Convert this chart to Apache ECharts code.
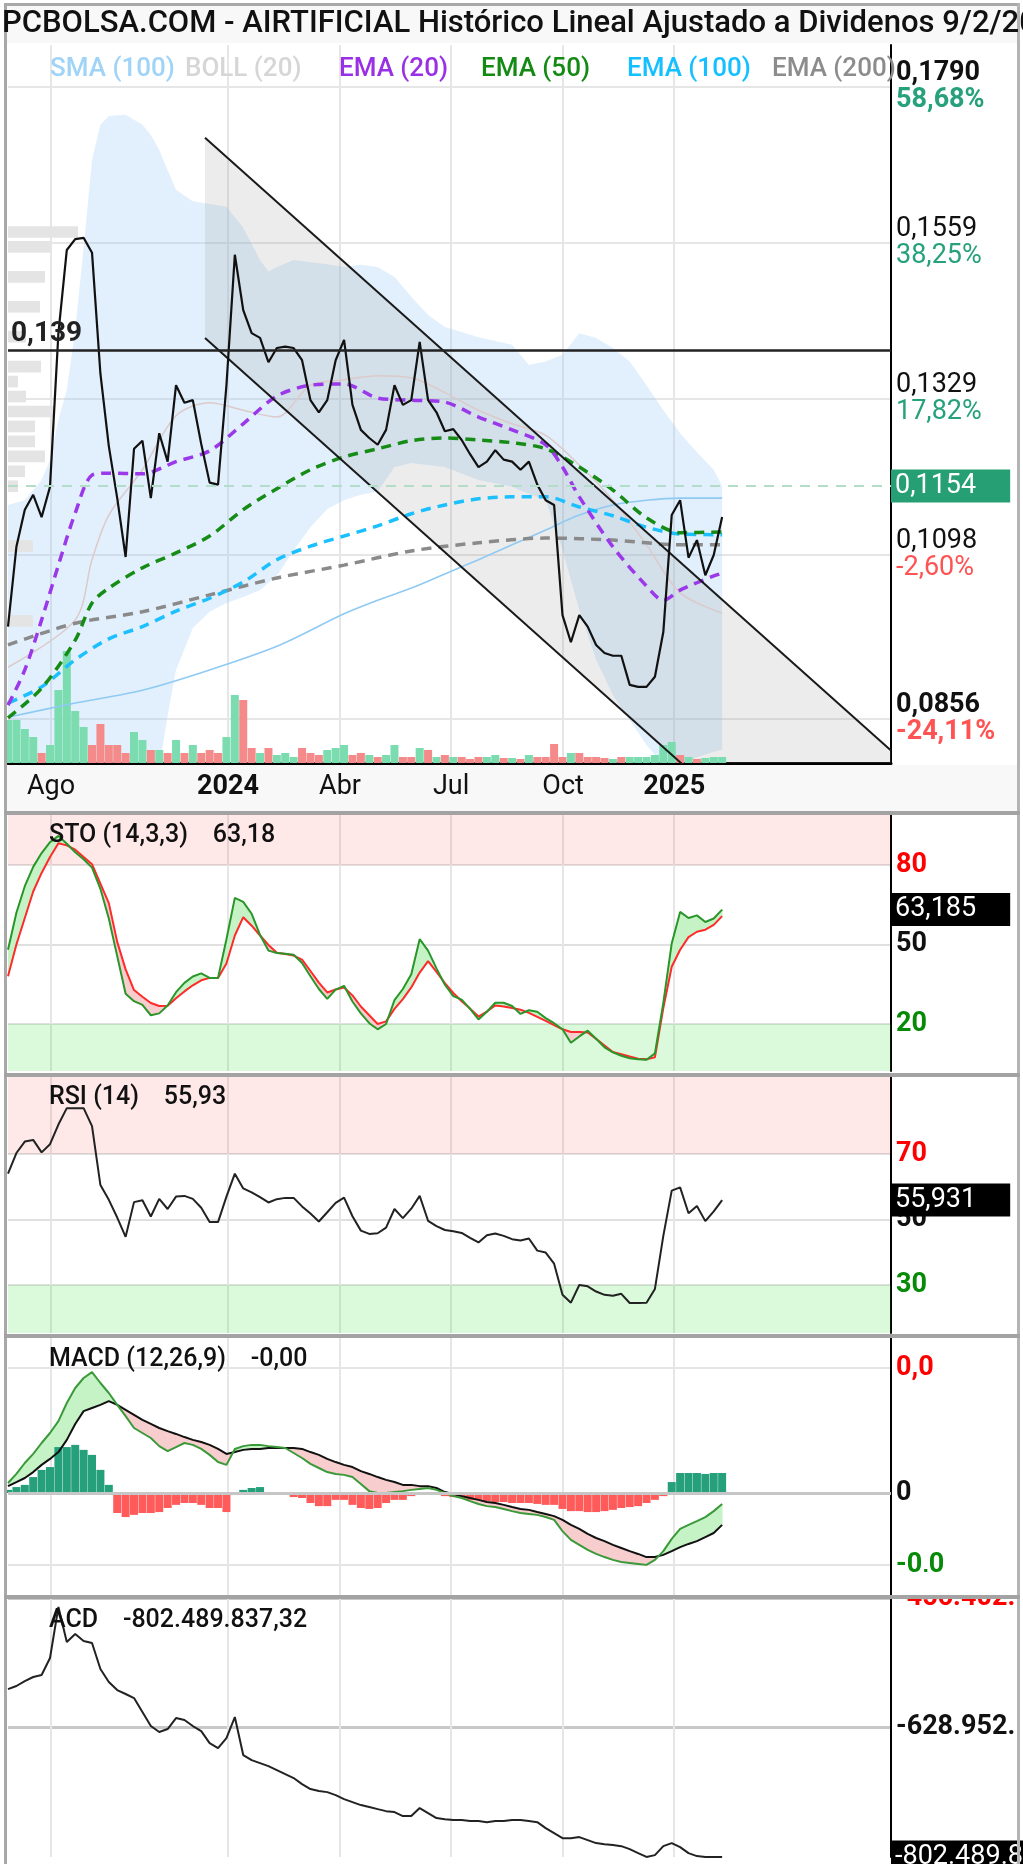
<!DOCTYPE html>
<html>
<head>
<meta charset="utf-8">
<title>AIRTIFICIAL</title>
<script src="https://cdn.jsdelivr.net/npm/echarts@6.0.0/dist/echarts.min.js"></script>
<style>
  html, body { margin: 0; padding: 0; background: #fff; }
  #main { width: 1023px; height: 1864px; }
</style>
</head>
<body>
<div id="main"></div>
<script>
// x = week number since the first bar (late June 2023), last bar = 9/2/2025
var X_MAX = 105.1;
var monthPos = [5.12, 26.19, 39.52, 52.74, 66.07, 79.29];
var monthLabels = ['Ago', '2024', 'Abr', 'Jul', 'Oct', '2025'];

// weekly close
var price = [0.0992,0.1110,0.1165,0.1187,0.1154,0.1199,0.1426,0.1549,0.1565,0.1567,
  0.1545,0.1366,0.1259,0.1182,0.1095,0.1255,0.1267,0.1182,0.1278,0.1236,
  0.1349,0.1323,0.1327,0.1262,0.1205,0.1202,0.1349,0.1542,0.1460,0.1426,
  0.1419,0.1383,0.1404,0.1406,0.1404,0.1386,0.1327,0.1309,0.1327,0.1386,
  0.1416,0.1320,0.1283,0.1271,0.1261,0.1283,0.1349,0.1320,0.1327,0.1413,
  0.1327,0.1309,0.1281,0.1284,0.1268,0.1247,0.1228,0.1236,0.1253,0.1239,
  0.1236,0.1224,0.1236,0.1202,0.1179,0.1172,0.1009,0.0969,0.1009,0.0992,
  0.0965,0.0953,0.0949,0.0949,0.0906,0.0903,0.0903,0.0918,0.0984,0.1157,
  0.1179,0.1094,0.1120,0.1068,0.1098,0.1154];

// weekly volume (relative) and up/down week
var volume = [43,43,34,26,10,18,73,112,52,36, 18,39,18,18,10,31,23,13,13,10,
  23,10,18,10,13,10,26,68,63,15, 10,15,8,10,6,15,10,8,13,15,
  18,8,10,8,6,8,18,6,6,15, 13,6,8,6,6,4,6,6,8,5,
  5,4,8,6,6,19,6,10,10,6, 6,5,4,6,6,6,6,8,18,21,
  8,6,4,5,6,6];
var volUp = [1,1,1,1,0,1,1,1,1,1, 0,0,0,0,0,1,1,0,1,0,
  1,0,1,0,0,0,1,1,0,0, 1,0,1,1,1,0,0,0,1,1,
  1,0,0,1,0,1,1,0,0,1, 0,1,0,1,0,0,0,1,1,0,
  1,0,1,0,0,0,0,1,0,0, 0,0,1,0,1,1,1,1,1,1,
  0,1,0,1,1,1];

// moving averages [week, value]
var ema20 = [[0,0.0876],[2,0.0928],[4,0.1002],[6,0.1083],[8,0.1160],[10,0.1216],[12,0.1219],[16,0.1218],
  [20,0.1236],[24,0.1252],[28,0.1292],[32,0.1333],[36,0.1349],[40,0.1351],[44,0.1330],[48,0.1327],
  [52,0.1324],[56,0.1302],[60,0.1283],[64,0.1261],[66,0.1228],[68,0.1184],[72,0.1110],[76,0.1052],
  [78,0.1031],[80,0.1046],[84,0.1067],[85,0.1071]];
var ema50 = [[0,0.0857],[4,0.0901],[8,0.0972],[10,0.1027],[12,0.1049],[16,0.1079],[20,0.1101],[24,0.1126],
  [28,0.1165],[32,0.1196],[36,0.1224],[40,0.1243],[44,0.1255],[48,0.1267],[52,0.1271],[56,0.1268],
  [60,0.1264],[64,0.1255],[68,0.1228],[72,0.1194],[76,0.1153],[80,0.1131],[85,0.1132]];
var ema100 = [[0,0.0879],[4,0.0903],[8,0.0943],[12,0.0974],[16,0.0992],[20,0.1015],[24,0.1034],[28,0.1058],
  [32,0.1091],[36,0.1111],[40,0.1126],[44,0.1141],[48,0.1159],[52,0.1172],[56,0.1181],[60,0.1184],
  [64,0.1184],[68,0.1169],[72,0.1156],[76,0.1139],[80,0.1129],[85,0.1128]];
var ema200 = [[0,0.0965],[8,0.0997],[16,0.1014],[24,0.1039],[32,0.1064],[40,0.1083],[48,0.1104],[56,0.1116],
  [64,0.1123],[72,0.1120],[80,0.1113],[85,0.1113]];
var sma100 = [[0,0.0858],[8,0.0879],[16,0.0898],[24,0.0928],[32,0.0963],[40,0.1011],[44,0.1031],[48,0.1049],
  [52,0.1070],[56,0.1091],[60,0.1113],[64,0.1135],[68,0.1157],[72,0.1172],[76,0.1179],[80,0.1182],[85,0.1182]];
var bollMid = [[0,0.0932],[8,0.1002],[10,0.1091],[12,0.1157],[16,0.1224],[20,0.1304],[24,0.1323],[28,0.1312],
  [32,0.1302],[36,0.1349],[40,0.1357],[44,0.1363],[48,0.1360],[52,0.1338],[56,0.1312],[60,0.1292],
  [64,0.1275],[68,0.1231],[72,0.1179],[76,0.1113],[80,0.1042],[85,0.1012]];

// Bollinger (20) bands
var bollX = [0,2,4,5,6,7,8,9,10,11, 12,14,16,17,18,19,20,22,24,26, 28,30,31,32,34,36,38,40,42,44,
  46,48,50,52,56,60,62,64,66,68, 70,72,74,76,78,80,82,84,85];
var bollUpper = [0.1172,0.1179,0.1209,0.1239,0.1298,0.1342,0.1431,0.1552,0.1682,0.1734,
  0.1747,0.1749,0.1734,0.1719,0.1697,0.1667,0.1638,0.1621,0.1617,0.1613,
  0.1582,0.1534,0.1517,0.1524,0.1534,0.1531,0.1528,0.1524,0.1527,0.1524,
  0.1509,0.1480,0.1453,0.1435,0.1420,0.1409,0.1379,0.1384,0.1394,0.1426,
  0.1419,0.1404,0.1384,0.1349,0.1312,0.1278,0.1250,0.1224,0.1200];
var bollLower = [0.0706,0.0708,0.0710,0.0711,0.0712,0.0713,0.0714,0.0715,0.0718,0.0722,
  0.0728,0.0736,0.0745,0.0758,0.0783,0.0861,0.0928,0.0990,0.1014,0.1027,
  0.1036,0.1046,0.1057,0.1067,0.1105,0.1139,0.1166,0.1179,0.1187,0.1192,
  0.1228,0.1234,0.1231,0.1228,0.1209,0.1199,0.1188,0.1179,0.1105,0.1017,
  0.0943,0.0891,0.0854,0.0817,0.0787,0.0790,0.0799,0.0807,0.0810];

// bearish channel
var chanX = [23.45, 105.1];
var chanUpper = [0.1715, 0.0809];
var chanLower = [0.1419, 0.0513];
var levelLine = 0.139;

// volume by price, 48 levels from the top of the chart down
var profileVol = [0,0,0,0,0,0,0,0,0,0,0,0, 70,43,0,37,0,32,0,18,0,33,10,18,45,27,27,37,17,10,
  0,0,0,25,0,0,0,0,25,0,0,0,0,0,0,0,0,0];

// Stochastic (14,3,3)
var stoK = [48,62,72,79.3,84.5,88.6,91,88,84.8,82.2, 79,71,59.8,45.6,31.4,28.6,27.2,23.3,24,27,
  32,35.5,37.9,39.1,37.4,37.4,52,67.6,66.1,61.6, 53.6,47.7,46.8,46.5,46.1,43,38,33.2,29.5,33,
  34.4,28.5,24,20.3,18,20,29,33.2,38.8,52, 47.7,41,34.8,30.5,29.2,25.7,21.7,24.6,28,28,
  26.8,23.8,25.2,24.6,22.2,20.3,18,12.9,15.3,17.5, 14.4,11.2,9.3,8,7.1,6.7,6.5,8.9,28,50.4,
  62.3,60,61,58.5,59.8,63.185];
var stoD = [38,50,60,70,77,83,88.2,87.4,85.8,83, 80.3,73,65.6,51,40.6,32.8,30.3,27.9,26.8,26.9,
  29.7,32.3,34.6,36.5,37.4,37.4,42.8,53.4,60.3,57.1, 53.4,49.8,46.9,46.4,45.8,44.3,40,35.6,31.9,33,
  33.8,30.8,26.6,23.3,20,21,25.7,29.4,33.8,39.4, 43.7,39.7,35.4,31.7,28.6,25.8,22.8,24.7,27,26.6,
  26,25.4,24.2,22.7,21.2,19.6,18,17,17,16.8, 14.4,11.9,9.4,8.6,7.7,6.9,6.7,7.4,26,41.6,
  48,52.8,54.8,55.6,57.4,60.7];

// RSI (14)
var rsi = [64,70.3,73.8,74.3,70.5,73,79,84,84,84, 78.5,60.5,56,50.6,44.7,55.3,55.9,50.9,56.3,53.2,
  57,57.2,56.3,53.6,49.2,49.2,57,64,59.5,58.3, 56.8,55.2,56.2,56.6,56.6,54,51.8,49.4,52.2,55.1,
  56.7,51,46.6,45.6,45.8,47.5,53.2,50.4,53.3,57.2, 49.6,48,46.8,46.4,45.9,44.4,43,45.2,45.7,45,
  44,43.6,44.2,40.5,39.9,36.5,27,24.6,30,29.6, 28,27,26.7,27.3,24.5,24.5,24.6,28.8,45,58.8,
  59.8,51.9,54.1,49.5,52.5,55.931];

// MACD (12,26,9)
var macd = [0.00032,0.00061,0.00096,0.00125,0.0016,0.00192,0.0023,0.00288,0.00336,0.00368,
  0.00387,0.00352,0.0032,0.00282,0.00246,0.00208,0.00192,0.00176,0.0015,0.00134,
  0.00147,0.0016,0.00154,0.00141,0.00122,0.00099,0.0009,0.00141,0.0015,0.00154,
  0.00154,0.0015,0.00147,0.00144,0.00128,0.00112,0.00093,0.0008,0.00067,0.00061,
  0.00058,0.00051,0.00029,0.00006,0,0,0.00003,0.00006,0.0001,0.00013,
  0.00016,0.0001,0,-0.0001,-0.00016,-0.00026,-0.00035,-0.00042,-0.00045,-0.00051,
  -0.00058,-0.00064,-0.00067,-0.0007,-0.00077,-0.00086,-0.00122,-0.0015,-0.00166,-0.00182,
  -0.00195,-0.00205,-0.00214,-0.00221,-0.00224,-0.00227,-0.0023,-0.00214,-0.00186,-0.00147,
  -0.00115,-0.00102,-0.0009,-0.00077,-0.00058,-0.00035];
var macdSignal = [0.00022,0.00035,0.00048,0.00067,0.0009,0.00109,0.00131,0.0017,0.00221,0.00262,
  0.00272,0.00282,0.00294,0.00282,0.00266,0.0025,0.00234,0.00221,0.00208,0.00198,
  0.00189,0.00179,0.0017,0.00163,0.00154,0.00141,0.00125,0.00131,0.00138,0.00141,
  0.00141,0.00144,0.00144,0.00144,0.00144,0.00141,0.00131,0.00122,0.00109,0.00099,
  0.0009,0.00083,0.0007,0.00061,0.00051,0.00042,0.00035,0.00026,0.00026,0.00022,
  0.00022,0.00016,0.00003,-0.00003,-0.0001,-0.00016,-0.00022,-0.00029,-0.00032,-0.00038,
  -0.00045,-0.00051,-0.00054,-0.00061,-0.00067,-0.00074,-0.00086,-0.00102,-0.00115,-0.00131,
  -0.00144,-0.00154,-0.00166,-0.00176,-0.00186,-0.00195,-0.00205,-0.00205,-0.00198,-0.00186,
  -0.00173,-0.00163,-0.00154,-0.00141,-0.00128,-0.00102];
var macdHist = [0.0001,0.00019,0.00026,0.00051,0.00074,0.00083,0.00147,0.00147,0.00154,0.00138,
  0.00122,0.00074,0.00026,-0.00064,-0.00077,-0.0007,-0.00064,-0.00064,-0.00061,-0.00048,
  -0.00038,-0.00032,-0.00032,-0.00038,-0.00048,-0.00048,-0.00061,0.00003,0.0001,0.00016,
  0.00019,0.00002,-0.00003,-0.00006,-0.00013,-0.00016,-0.00032,-0.00042,-0.00042,-0.00022,
  -0.00022,-0.00038,-0.00048,-0.00051,-0.00048,-0.00032,-0.00022,-0.00022,-0.0001,0.00003,
  0,-0.00003,-0.0001,-0.00013,-0.00016,-0.00022,-0.00022,-0.00026,-0.00029,-0.00029,
  -0.00032,-0.00032,-0.00032,-0.00035,-0.00038,-0.00038,-0.00051,-0.00058,-0.00058,-0.00061,
  -0.00061,-0.00058,-0.00054,-0.00048,-0.00045,-0.00042,-0.00032,-0.00022,-0.0001,0.00035,
  0.00064,0.00064,0.00064,0.00061,0.00064,0.00064];

// ACD, millions
var acd = [-578.1,-574.0,-567.4,-562.0,-559.3,-536.6,-468.4,-515.2,-504.5,-513.9,
  -516.6,-551.3,-568.7,-579.4,-584.7,-590.1,-608.8,-627.5,-635.5,-631.5,
  -616.8,-619.5,-627.5,-634.2,-650.3,-656.9,-643.6,-615.5,-666.3,-673.0,
  -677.0,-681.0,-686.3,-691.7,-697.0,-705.1,-711.7,-714.4,-715.8,-719.8,
  -725.1,-729.1,-733.1,-735.8,-738.5,-741.2,-742.5,-747.8,-747.8,-737.1,
  -743.8,-750.5,-751.9,-753.2,-753.2,-754.5,-754.5,-755.9,-754.5,-754.5,
  -753.2,-753.2,-754.5,-755.9,-763.9,-770.6,-777.3,-777.3,-775.9,-779.9,
  -783.9,-785.3,-786.6,-788.0,-792.0,-797.3,-802.4,-800.0,-788.0,-783.9,
  -789.3,-797.3,-801.3,-802.4,-802.4,-802.49];

// tick labels
var mainTicks = [0.1790, 0.1559, 0.1329, 0.1098, 0.0856];
var mainTickText = ['0,1790', '0,1559', '0,1329', '0,1098', '0,0856'];
var mainTickPct = ['58,68%', '38,25%', '17,82%', '-2,60%', '-24,11%'];
var stoTicks = [80, 50, 20], stoTickText = ['80', '50', '20'];
var rsiTicks = [70, 50, 30], rsiTickText = ['70', '50', '30'];
var macdTicks = [0.004, 0, -0.0023], macdTickText = ['0,0', '0', '-0,0'];
var acdTicks = [-456.402, -628.952], acdTickText = ['-456.402.', '-628.952.'];
var tickStyles = ['r', 'k', 'g'];

var titleText = 'PCBOLSA.COM - AIRTIFICIAL Histórico Lineal Ajustado a Dividenos 9/2/2025';
var legendNames = ['SMA (100)', 'BOLL (20)', 'EMA (20)', 'EMA (50)', 'EMA (100)', 'EMA (200)'];
var panelTitles = ['STO (14,3,3)    63,18', 'RSI (14)    55,93', 'MACD (12,26,9)    -0,00', 'ACD    -802.489.837,32'];
var acdLastText = '-802.489.837,32';

// ---------------------------------------------------------------
var FONT = 'Roboto';
var weeks = price.map(function (p, i) { return i; });
function pts(xs, ys) { return xs.map(function (x, i) { return [x, ys[i]]; }); }
function idxOf(arr, v) {
  var b = 0;
  for (var i = 1; i < arr.length; i++) if (Math.abs(arr[i] - v) < Math.abs(arr[b] - v)) b = i;
  return b;
}
function lastOf(a) { return a[a.length - 1]; }
function comma(v, d) { return v.toFixed(d).replace('.', ','); }
function line(o) {
  var s = { type: 'line', symbol: 'none', showSymbol: false, silent: true, animation: false };
  for (var k in o) s[k] = o[k];
  return s;
}
var dash = [10, 7];
var clear = 'rgba(0,0,0,0)';

function clipRect(params) {
  var cs = params.coordSys;
  return { type: 'rect', shape: { x: cs.x, y: cs.y, width: cs.width, height: cs.height } };
}
// filled band between two lines sampled at the same x
function bandSeries(xi, yi, xs, hi, lo, color, z) {
  return {
    type: 'custom', xAxisIndex: xi, yAxisIndex: yi, silent: true, animation: false, clip: true, z: z,
    data: [[xs[0], hi[0]]],
    renderItem: function (params, api) {
      var top = xs.map(function (x, i) { return api.coord([x, hi[i]]); });
      var bot = xs.map(function (x, i) { return api.coord([x, lo[i]]); }).reverse();
      return { type: 'polygon', clipPath: clipRect(params),
        shape: { points: top.concat(bot) }, style: { fill: color } };
    }
  };
}
// fill between two weekly lines, colour by which one is on top
function crossFill(xi, yi, a, b, upColor, downColor, z) {
  return {
    type: 'custom', xAxisIndex: xi, yAxisIndex: yi, silent: true, animation: false, clip: true, z: z,
    data: a.slice(0, -1).map(function (v, i) { return [i, v]; }),
    renderItem: function (params, api) {
      var i = api.value(0);
      var a0 = a[i], a1 = a[i + 1], b0 = b[i], b1 = b[i + 1];
      var d0 = a0 - b0, d1 = a1 - b1;
      var kids = [];
      function poly(p, color) {
        kids.push({ type: 'polygon', shape: { points: p.map(function (q) { return api.coord(q); }) },
          style: { fill: color, stroke: color, lineWidth: 0.8 } });
      }
      if (d0 * d1 >= 0) {
        poly([[i, a0], [i + 1, a1], [i + 1, b1], [i, b0]], (d0 + d1) >= 0 ? upColor : downColor);
      } else {
        var t = d0 / (d0 - d1);
        var xc = i + t, yc = a0 + (a1 - a0) * t;
        poly([[i, a0], [xc, yc], [i, b0]], d0 > 0 ? upColor : downColor);
        poly([[xc, yc], [i + 1, a1], [i + 1, b1]], d1 > 0 ? upColor : downColor);
      }
      return { type: 'group', children: kids };
    }
  };
}

var grid = [
  { left: 8, right: 132, top: 45, height: 718 },
  { left: 8, right: 132, top: 815, height: 256 },
  { left: 8, right: 132, top: 1077, height: 256 },
  { left: 8, right: 132, top: 1338, height: 257 },
  { left: 8, right: 132, top: 1598, height: 259 },
  { left: 8, right: 132, top: 45, height: 718 }
].map(function (g) { g.containLabel = false; g.outerBoundsMode = 'none'; return g; });

function xAxisFor(gi, withLabels) {
  var ax = {
    type: 'value', gridIndex: gi, min: 0, max: X_MAX,
    axisTick: { show: false, customValues: monthPos },
    splitLine: { show: true, lineStyle: { color: '#e6e6e6', width: 2 } },
    axisLine: { show: false, onZero: false },
    axisLabel: { show: false }
  };
  if (withLabels) {
    ax.axisLine = { show: true, onZero: false, lineStyle: { color: '#000', width: 3 } };
    ax.axisLabel = {
      show: true, customValues: monthPos, margin: 11,
      formatter: function (v) {
        var t = monthLabels[idxOf(monthPos, v)];
        return /^\d+$/.test(t) ? '{y|' + t + '}' : '{m|' + t + '}';
      },
      rich: {
        m: { fontSize: 27, fontFamily: FONT, color: '#111' },
        y: { fontSize: 27, fontFamily: FONT, fontWeight: 'bold', color: '#111' }
      }
    };
  }
  return ax;
}

var sideRich = {
  r: { fontSize: 27, fontFamily: FONT, fontWeight: 'bold', color: '#ff0000' },
  k: { fontSize: 27, fontFamily: FONT, fontWeight: 'bold', color: '#111' },
  g: { fontSize: 27, fontFamily: FONT, fontWeight: 'bold', color: '#078a07' }
};
function sideAxis(gi, min, max, ticks, texts, gridColor, gridWidth) {
  return {
    type: 'value', gridIndex: gi, position: 'right', min: min, max: max,
    axisLine: { show: true, onZero: false, lineStyle: { color: '#000', width: 2 } },
    axisTick: { show: false, customValues: ticks },
    axisLabel: {
      show: true, customValues: ticks, margin: 5,
      formatter: function (v) { var k = idxOf(ticks, v); return '{' + tickStyles[k] + '|' + texts[k] + '}'; },
      rich: sideRich
    },
    splitLine: { show: true, lineStyle: { color: gridColor, width: gridWidth } }
  };
}

var mainY = {
  type: 'value', gridIndex: 0, position: 'right', min: 0.07904, max: 0.18521,
  axisLine: { show: true, onZero: false, lineStyle: { color: '#000', width: 2 } },
  axisTick: { show: false, customValues: mainTicks },
  axisLabel: {
    show: true, customValues: mainTicks, margin: 5,
    formatter: function (v) {
      var k = idxOf(mainTicks, v);
      var bold = (k === 0 || k === mainTicks.length - 1);
      var neg = mainTickPct[k].charAt(0) === '-';
      return '{' + (bold ? 'vb' : 'v') + '|' + mainTickText[k] + '}\n{' +
        (neg ? 'r' : 'g') + (bold ? 'b' : '') + '|' + mainTickPct[k] + '}';
    },
    rich: {
      v: { fontSize: 27, fontFamily: FONT, color: '#111', lineHeight: 27 },
      vb: { fontSize: 27, fontFamily: FONT, color: '#111', fontWeight: 'bold', lineHeight: 27 },
      g: { fontSize: 27, fontFamily: FONT, color: '#26a17b', lineHeight: 27 },
      gb: { fontSize: 27, fontFamily: FONT, color: '#26a17b', fontWeight: 'bold', lineHeight: 27 },
      r: { fontSize: 27, fontFamily: FONT, color: '#ff5252', lineHeight: 27 },
      rb: { fontSize: 27, fontFamily: FONT, color: '#ff5252', fontWeight: 'bold', lineHeight: 27 }
    }
  },
  splitLine: { show: true, lineStyle: { color: '#e6e6e6', width: 2 } }
};

var xAxis = [xAxisFor(0, true), xAxisFor(1), xAxisFor(2), xAxisFor(3), xAxisFor(4),
  { type: 'value', gridIndex: 5, min: 0, max: 883, show: false }];
var yAxis = [
  mainY,
  { type: 'value', gridIndex: 0, min: 0, max: 718, show: false },
  sideAxis(1, 2.26, 98.87, stoTicks, stoTickText, '#e0e0e0', 2),
  sideAxis(2, 15.34, 93.51, rsiTicks, rsiTickText, '#e0e0e0', 2),
  sideAxis(3, -0.003264, 0.00496, macdTicks, macdTickText, '#e4e4e4', 2),
  sideAxis(4, -802.49, -456.402, acdTicks, acdTickText, '#c8c8c8', 3),
  { type: 'category', gridIndex: 5, inverse: true, show: false,
    data: profileVol.map(function (v, k) { return String(k); }) }
];

function boxLabel(text, bg) {
  return { show: true, position: 'end', distance: 0, formatter: text, color: '#fff',
    backgroundColor: bg, fontSize: 27, fontFamily: FONT, padding: [3, 34, 3, 4] };
}
function boxLine(value, text) {
  return { silent: true, symbol: ['none', 'none'], animation: false,
    data: [{ yAxis: value, lineStyle: { color: clear, width: 0 }, label: boxLabel(text, '#000') }] };
}
function zones(hiFrom, hiTo, loFrom, loTo) {
  return { silent: true, animation: false, data: [
    [{ yAxis: hiFrom, itemStyle: { color: 'rgba(255,0,0,0.09)' } }, { yAxis: hiTo }],
    [{ yAxis: loFrom, itemStyle: { color: 'rgba(0,220,0,0.14)' } }, { yAxis: loTo }]
  ] };
}

var series = [];
// --- main price panel ---
series.push(bandSeries(0, 0, bollX, bollUpper, bollLower, 'rgba(150,205,245,0.29)', 1));
series.push({ type: 'bar', name: 'perfil', xAxisIndex: 5, yAxisIndex: 6, data: profileVol, z: 1.2,
  barCategoryGap: '22%', itemStyle: { color: '#e4e4e4' }, silent: true, animation: false });
series.push(bandSeries(0, 0, chanX, chanUpper, chanLower, 'rgba(150,150,150,0.18)', 1.4));
series.push({ type: 'bar', name: 'volumen', xAxisIndex: 0, yAxisIndex: 1, barWidth: 8, z: 1.6,
  silent: true, animation: false,
  data: volume.map(function (v, i) {
    return { value: [i, v], itemStyle: { color: volUp[i] ? '#7bdcaf' : '#f58a8a' } };
  }) });
series.push(line({ name: 'boll-mid', xAxisIndex: 0, yAxisIndex: 0, data: bollMid, smooth: 0.3, z: 2,
  lineStyle: { color: '#dccaca', width: 1.5 } }));
series.push(line({ name: 'SMA (100)', xAxisIndex: 0, yAxisIndex: 0, data: sma100, smooth: 0.3, z: 2,
  lineStyle: { color: '#8fcaf3', width: 1.6 } }));
series.push(line({ name: 'EMA (200)', xAxisIndex: 0, yAxisIndex: 0, data: ema200, smooth: 0.3, z: 2,
  lineStyle: { color: '#8a8a8a', width: 3.5, type: dash } }));
series.push(line({ name: 'EMA (100)', xAxisIndex: 0, yAxisIndex: 0, data: ema100, smooth: 0.3, z: 2,
  lineStyle: { color: '#1cc0ff', width: 3.5, type: dash } }));
series.push(line({ name: 'EMA (50)', xAxisIndex: 0, yAxisIndex: 0, data: ema50, smooth: 0.3, z: 2,
  lineStyle: { color: '#168c16', width: 3.5, type: dash } }));
series.push(line({ name: 'EMA (20)', xAxisIndex: 0, yAxisIndex: 0, data: ema20, smooth: 0.3, z: 2,
  lineStyle: { color: '#9a38ea', width: 3.5, type: dash } }));
series.push(line({ name: 'canal-sup', xAxisIndex: 0, yAxisIndex: 0, data: pts(chanX, chanUpper), z: 2.5,
  lineStyle: { color: '#1a1a1a', width: 2 } }));
series.push(line({ name: 'canal-inf', xAxisIndex: 0, yAxisIndex: 0, data: pts(chanX, chanLower), z: 2.5,
  lineStyle: { color: '#1a1a1a', width: 2 } }));
series.push(line({ name: 'precio', xAxisIndex: 0, yAxisIndex: 0, data: pts(weeks, price), z: 3,
  lineStyle: { color: '#111', width: 2.2 },
  markLine: {
    silent: true, symbol: ['none', 'none'], animation: false,
    data: [
      { yAxis: levelLine, lineStyle: { color: '#222', width: 2.5, type: 'solid' },
        label: { show: true, position: 'insideStartTop', distance: 3, formatter: comma(levelLine, 3),
          fontSize: 28, fontWeight: 'bold', fontFamily: FONT, color: '#222' } },
      { yAxis: lastOf(price), lineStyle: { color: '#b3dcc9', width: 2, type: [10, 8] },
        label: boxLabel(comma(lastOf(price), 4), '#279f74') }
    ]
  } }));

// --- STO panel ---
series.push(line({ xAxisIndex: 1, yAxisIndex: 2, data: pts(weeks, stoD), z: 1,
  lineStyle: { color: clear, width: 0 }, markArea: zones(80, 98.87, 2.26, 20) }));
series.push(crossFill(1, 2, stoK, stoD, '#c6f3c6', '#f8cdcd', 1.5));
series.push(line({ xAxisIndex: 1, yAxisIndex: 2, data: pts(weeks, stoD), z: 3,
  lineStyle: { color: '#ff2a2a', width: 2 } }));
series.push(line({ xAxisIndex: 1, yAxisIndex: 2, data: pts(weeks, stoK), z: 3.2,
  lineStyle: { color: '#2a962a', width: 2 }, markLine: boxLine(lastOf(stoK), comma(lastOf(stoK), 3)) }));

// --- RSI panel ---
series.push(line({ xAxisIndex: 2, yAxisIndex: 3, data: pts(weeks, rsi), z: 1,
  lineStyle: { color: clear, width: 0 }, markArea: zones(70, 93.51, 15.34, 30) }));
series.push(line({ xAxisIndex: 2, yAxisIndex: 3, data: pts(weeks, rsi), z: 3,
  lineStyle: { color: '#222', width: 2 }, markLine: boxLine(lastOf(rsi), comma(lastOf(rsi), 3)) }));

// --- MACD panel ---
series.push(line({ xAxisIndex: 3, yAxisIndex: 4, data: pts(weeks, macd), z: 1,
  lineStyle: { color: clear, width: 0 },
  markLine: { silent: true, symbol: ['none', 'none'], animation: false,
    data: [{ yAxis: 0, lineStyle: { color: '#c6c6c6', width: 3, type: 'solid' }, label: { show: false } }] } }));
series.push(crossFill(3, 4, macd, macdSignal, '#c6f3c6', '#f8cdcd', 1.5));
series.push({ type: 'bar', xAxisIndex: 3, yAxisIndex: 4, barWidth: 8, z: 2, silent: true, animation: false,
  data: macdHist.map(function (h, i) {
    return { value: [i, h], itemStyle: { color: h >= 0 ? '#25a07a' : '#ff5b5b' } };
  }) });
series.push(line({ xAxisIndex: 3, yAxisIndex: 4, data: pts(weeks, macdSignal), z: 3,
  lineStyle: { color: '#111', width: 2 } }));
series.push(line({ xAxisIndex: 3, yAxisIndex: 4, data: pts(weeks, macd), z: 3.2,
  lineStyle: { color: '#3a9a3a', width: 2 } }));

// --- ACD panel ---
series.push(line({ xAxisIndex: 4, yAxisIndex: 5, data: pts(weeks, acd), z: 3,
  lineStyle: { color: '#222', width: 2 }, markLine: boxLine(lastOf(acd), acdLastText) }));

// --- frame, title, legend ---
function txt(text, x, y, color, size, weight) {
  return { type: 'text', z: 100, silent: true,
    style: { text: text, x: x, y: y, fill: color, fontSize: size, fontWeight: weight || 'normal',
      fontFamily: FONT, align: 'left', verticalAlign: 'middle' } };
}
function rect(x, y, w, h, fill, z) {
  return { type: 'rect', z: z, silent: true, shape: { x: x, y: y, width: w, height: h }, style: { fill: fill } };
}
var legendColors = ['#9fd3f7', '#d6d6d6', '#9a30e6', '#138a13', '#14c0ff', '#8c8c8c'];
var legendX = [50, 185, 339, 481, 627, 772];
var graphic = [
  rect(5, 5, 1014, 38, '#f8f8f8', -10),
  rect(5, 765, 1014, 46, '#f8f8f8', -10),
  rect(893, 1572, 124, 24, '#ffffff', 40),
  rect(4, 3, 1016, 3, '#a8a8a8', 50),
  rect(4, 3, 3, 1861, '#a8a8a8', 50),
  rect(1017, 3, 3, 1861, '#b4b4b4', 50),
  rect(4, 811, 1016, 4, '#a3a3a3', 50),
  rect(4, 1073, 1016, 4, '#a3a3a3', 50),
  rect(4, 1334, 1016, 4, '#a3a3a3', 50),
  rect(4, 1595, 1016, 4, '#a3a3a3', 50),
  txt(titleText, 2, 24, '#111', 31, 500)
];
legendNames.forEach(function (n, i) { graphic.push(txt(n, legendX[i], 69, legendColors[i], 26, 500)); });
[836, 1098, 1360, 1621].forEach(function (y, i) { graphic.push(txt(panelTitles[i], 49, y, '#111', 25, 500)); });

var chart = echarts.init(document.getElementById('main'));
chart.setOption({
  animation: false,
  backgroundColor: '#ffffff',
  textStyle: { fontFamily: FONT },
  grid: grid,
  xAxis: xAxis,
  yAxis: yAxis,
  series: series,
  graphic: graphic
});
</script>
</body>
</html>
